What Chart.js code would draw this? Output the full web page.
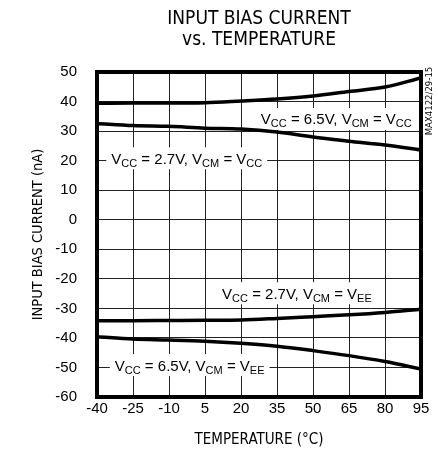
<!DOCTYPE html>
<html>
<head>
<meta charset="utf-8">
<script src="https://cdn.jsdelivr.net/npm/chart.js@4/dist/chart.umd.min.js"></script>
<style>
html,body{margin:0;padding:0;background:#fff;}
#wrap{width:438px;height:456px;position:relative;}
</style>
</head>
<body>
<div id="wrap"><canvas id="c"></canvas></div>
<script>
// ---- data ----
const temperatures = [-40, -25, -10, 5, 20, 35, 50, 65, 80, 95];
const xTickValues = [-40, -25, -10, 5, 20, 35, 50, 65, 80, 95];
const yTickValues = [50, 40, 30, 20, 10, 0, -10, -20, -30, -40, -50, -60];
const vcc65VcmVcc = [39.4, 39.5, 39.5, 39.6, 40.2, 40.9, 41.9, 43.4, 44.9, 48.0];
const vcc27VcmVcc = [32.6, 31.9, 31.6, 31.0, 30.7, 29.7, 28.0, 26.6, 25.3, 23.6];
const vcc27VcmVee = [-34.2, -34.2, -34.1, -34.0, -33.9, -33.4, -32.8, -32.2, -31.4, -30.3];
const vcc65VcmVee = [-39.6, -40.4, -40.7, -41.1, -41.8, -42.8, -44.3, -46.0, -48.0, -50.5];
const curveLabelTexts = ['V{CC} = 6.5V, V{CM} = V{CC}', 'V{CC} = 2.7V, V{CM} = V{CC}', 'V{CC} = 2.7V, V{CM} = V{EE}', 'V{CC} = 6.5V, V{CM} = V{EE}'];
const chartTitle = ['INPUT BIAS CURRENT', 'vs. TEMPERATURE'];
const xTitle = 'TEMPERATURE (°C)';
const yTitle = 'INPUT BIAS CURRENT (nA)';
const figureCode = 'MAX4122/29-15';

// ---- layout of annotations (data-space anchors) ----
const labelAnchors = [
  {t: 59.7, v: 34.1},
  {t: -2.6, v: 20.8},
  {t: 43.3, v: -24.9},
  {t: -1.4, v: -49.2}
];

const NARROW = '"Liberation Sans Narrow", "DejaVu Sans Condensed", "Liberation Sans", Arial, sans-serif';
const REG = '"Liberation Sans", Arial, sans-serif';

function parseRich(s) {
  const parts = [];
  const re = /\{([^}]*)\}|([^{]+)/g;
  let m;
  while ((m = re.exec(s)) !== null) {
    if (m[1] !== undefined) parts.push({text: m[1], sub: true});
    else parts.push({text: m[2], sub: false});
  }
  return parts;
}

function drawRich(ctx, s, cx, cy) {
  const parts = parseRich(s);
  const mainFont = '15px ' + REG;
  const subFont = '11px ' + REG;
  let w = 0;
  parts.forEach(p => { ctx.font = p.sub ? subFont : mainFont; p.w = ctx.measureText(p.text).width; w += p.w; });
  ctx.fillStyle = '#fff';
  ctx.fillRect(cx - w / 2 - 5, cy - 11, w + 10, 22);
  ctx.fillStyle = '#000';
  ctx.textAlign = 'left';
  ctx.textBaseline = 'alphabetic';
  let x = cx - w / 2;
  const base = cy + 5.5;
  parts.forEach(p => {
    ctx.font = p.sub ? subFont : mainFont;
    ctx.fillText(p.text, x, p.sub ? base + 3 : base);
    x += p.w;
  });
}

const annotations = {
  id: 'annotations',
  beforeDatasetsDraw(chart) {
    const {ctx, scales: {x, y}} = chart;
    ctx.save();
    curveLabelTexts.forEach((txt, i) => {
      drawRich(ctx, txt, x.getPixelForValue(labelAnchors[i].t), y.getPixelForValue(labelAnchors[i].v));
    });
    ctx.restore();
  },
  afterDraw(chart) {
    const {ctx, chartArea: a} = chart;
    ctx.save();
    ctx.strokeStyle = '#000';
    ctx.lineWidth = 4;
    ctx.strokeRect(a.left, a.top, a.right - a.left, a.bottom - a.top);
    ctx.translate(430, 101);
    ctx.rotate(-Math.PI / 2);
    ctx.font = '9.5px ' + NARROW;
    ctx.fillStyle = '#000';
    ctx.textAlign = 'center';
    ctx.textBaseline = 'middle';
    ctx.fillText(figureCode, 0, 0);
    ctx.restore();
  }
};

function series(vals) {
  return temperatures.map((t, i) => ({x: t, y: vals[i]}));
}

const lineStyle = {
  borderColor: '#000',
  borderWidth: 3.5,
  pointRadius: 0,
  fill: false,
  cubicInterpolationMode: 'monotone'
};

new Chart(document.getElementById('c'), {
  type: 'line',
  data: {
    datasets: [
      Object.assign({label: curveLabelTexts[0], data: series(vcc65VcmVcc)}, lineStyle),
      Object.assign({label: curveLabelTexts[1], data: series(vcc27VcmVcc)}, lineStyle),
      Object.assign({label: curveLabelTexts[2], data: series(vcc27VcmVee)}, lineStyle),
      Object.assign({label: curveLabelTexts[3], data: series(vcc65VcmVee)}, lineStyle)
    ]
  },
  options: {
    responsive: true,
    maintainAspectRatio: false,
    animation: false,
    layout: {padding: {left: 0, right: 17, top: 0, bottom: 0}},
    plugins: {
      legend: {display: false},
      tooltip: {enabled: false},
      title: {
        display: true,
        text: chartTitle,
        fullSize: false,
        color: '#000',
        font: {family: NARROW, size: 19, weight: 'normal', lineHeight: 1.1},
        padding: {top: 8.5, bottom: 21.7}
      }
    },
    scales: {
      x: {
        type: 'linear',
        min: -40,
        max: 95,
        afterBuildTicks(s) { s.ticks = xTickValues.map(v => ({value: v})); },
        afterFit(s) { s.height = 59; },
        grid: {color: '#222', lineWidth: 1, drawTicks: false},
        border: {display: false},
        ticks: {color: '#000', padding: 3, font: {family: REG, size: 15}, maxRotation: 0, autoSkip: false},
        title: {display: true, text: xTitle, color: '#000', font: {family: NARROW, size: 15}, padding: {top: 0, bottom: 7}}
      },
      y: {
        type: 'linear',
        min: -60,
        max: 50,
        afterBuildTicks(s) { s.ticks = yTickValues.map(v => ({value: v})); },
        afterFit(s) { s.width = 97; },
        grid: {color: '#222', lineWidth: 1, drawTicks: false},
        border: {display: false},
        ticks: {color: '#000', padding: 20, font: {family: REG, size: 15}, autoSkip: false},
        title: {display: true, text: yTitle, color: '#000', font: {family: NARROW, size: 14.5}, padding: {top: 30, bottom: 0}}
      }
    }
  },
  plugins: [annotations]
});
</script>
</body>
</html>
